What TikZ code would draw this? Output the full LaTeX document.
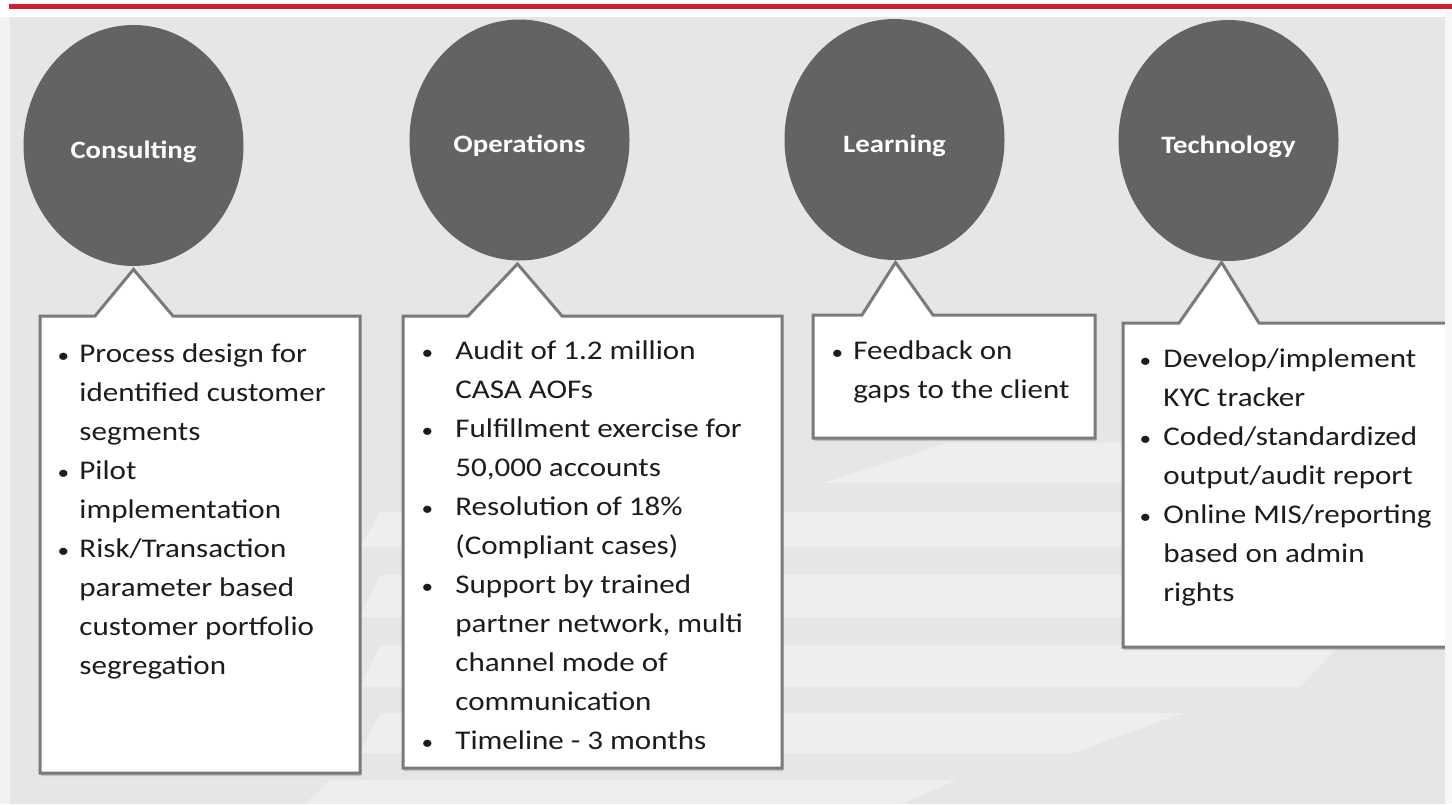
\documentclass[tikz,border=0pt]{standalone}
\usepackage{fontspec}
\setmainfont{Carlito}[FakeStretch=1.15]
\usepackage{array}
\usetikzlibrary{shapes.geometric,shadows,calc}
\definecolor{hubgray}{HTML}{636363}
\definecolor{bggray}{HTML}{E6E6E6}
\definecolor{bandgray}{HTML}{EEEEEE}
\definecolor{edgegray}{HTML}{7A7A7A}
\definecolor{topred}{HTML}{D02030}
\definecolor{txtgray}{HTML}{1C1C1C}
\newcommand{\bdot}{\scalebox{0.75}{\textbullet}}
\begin{document}
\begin{tikzpicture}[x=0.5pt,y=-0.5pt,
    hub/.style={ellipse, fill=hubgray, inner sep=0pt, minimum width=110pt, minimum height=120.5pt,
      text=white, font=\bfseries\fontsize{12.5}{15}\selectfont, text height=12.5pt, text depth=0pt},
    callout/.style={draw=edgegray, line width=1.5pt, fill=white,
      drop shadow={shadow xshift=0.5pt, shadow yshift=-1.5pt, opacity=0.35}},
    pts/.style={anchor=base west, inner sep=0pt, text=txtgray, font=\fontsize{13.5}{19.5}\selectfont}]
    \useasboundingbox (0,0) rectangle (1452,804);

    % background
    \fill[white] (0,0) rectangle (1452,804);
    \fill[topred] (9,4) rectangle (1452,8.5);
    \fill[black!5] (0,17) rectangle (10,804);
    \fill[bggray] (10,17) rectangle (1445,804);
    \fill[bandgray] (823,483) -- (948,443) -- (1445,443) -- (1445,483) -- cycle;
    \fill[bandgray] (360,547) -- (380,512) -- (1445,512) -- (1445,547) -- cycle;
    \fill[bandgray] (360,617) -- (380,575) -- (1445,575) -- (1445,617) -- cycle;
    \fill[bandgray] (360,687) -- (380,645) -- (1340,645) -- (1300,687) -- cycle;
    \fill[bandgray] (360,753) -- (380,713) -- (1184,713) -- (1073,753) -- cycle;
    \fill[bandgray] (305,804) -- (330,780) -- (957,780) -- (900,804) -- cycle;

    % circles
    \node[hub] (h1) at (133.5,145.5) {Consulting};
    \node[hub] (h2) at (519.5,140) {Operations};
    \node[hub] (h3) at (894.5,139.5) {Learning};
    \node[hub] (h4) at (1228.5,140.5) {Technology};

    % callouts
    \draw[callout] (40,316) -- (95,316) -- ($(h1.south)+(0,3)$) -- (173,316) -- (360,316)
        -- (360,773) -- (40,773) -- cycle;
    \draw[callout] (403,316) -- (468,316) -- ($(h2.south)+(-2,3)$) -- (562,316) -- (782,316)
        -- (782,768) -- (403,768) -- cycle;
    \draw[callout] (813,315) -- (862,315) -- ($(h3.south)+(1,2)$) -- (933,315) -- (1095,315)
        -- (1095,438) -- (813,438) -- cycle;
    \draw[callout] (1123,323) -- (1179,323) -- ($(h4.south)+(-7,1)$) -- (1259,323) -- (1460,323)
        -- (1460,647) -- (1123,647) -- cycle;

    \node[pts] (b1) at (47,362) {\begin{tabular}[t]{@{}w{c}{16pt}@{}l@{}}
        \bdot & Process design for\\
        & identified customer\\
        & segments\\
        \bdot & Pilot\\
        & implementation\\
        \bdot & Risk/Transaction\\
        & parameter based\\
        & customer portfolio\\
        & segregation
      \end{tabular}};
    \node[pts] (b2) at (399,359) {\begin{tabular}[t]{@{}w{c}{28pt}@{}l@{}}
        \bdot & Audit of 1.2 million\\
        & CASA AOFs\\
        \bdot & Fulfillment exercise for\\
        & 50,000 accounts\\
        \bdot & Resolution of 18\%\\
        & (Compliant cases)\\
        \bdot & Support by trained\\
        & partner network, multi\\
        & channel mode of\\
        & communication\\
        \bdot & Timeline - 3 months
      \end{tabular}};
    \node[pts] (b3) at (821,359) {\begin{tabular}[t]{@{}w{c}{16pt}@{}l@{}}
        \bdot & Feedback on\\
        & gaps to the client
      \end{tabular}};
    \node[pts] (b4) at (1127,367) {\begin{tabular}[t]{@{}w{c}{18pt}@{}l@{}}
        \bdot & Develop/implement\\
        & KYC tracker\\
        \bdot & Coded/standardized\\
        & output/audit report\\
        \bdot & Online MIS/reporting\\
        & based on admin\\
        & rights
      \end{tabular}};

    % right margin
    \fill[black!3] (1445,12) rectangle (1452,804);
\end{tikzpicture}
\end{document}
